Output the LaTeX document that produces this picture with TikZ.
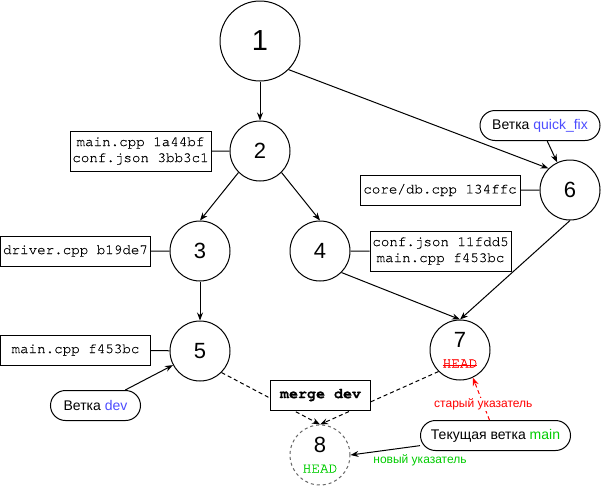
\documentclass[tikz,border=0pt]{standalone}
\usepackage{fontspec}
\setmainfont{Liberation Sans}
\newfontfamily\codefont[FakeBold=0.4,Ligatures=NoCommon]{TeX Gyre Cursor}
\usetikzlibrary{arrows.meta}
\definecolor{branchblue}{RGB}{76,76,255}
\definecolor{headgreen}{RGB}{0,204,0}
\definecolor{oldred}{RGB}{255,0,0}
\newcommand\struck[1]{\setbox0\hbox{#1}\rlap{\rule[0.32ex]{\wd0}{0.7pt}}\box0}
\newcommand\headtext[1]{\hbox{\codefont\fontsize{14.5}{14.5}\selectfont #1}}
\begin{document}
\begin{tikzpicture}[x=1pt,y=-1pt,line width=1pt,>={Stealth[length=8pt,width=6pt]},
  commit/.style={draw,circle,minimum size=60pt,inner sep=0pt,align=center,font=\fontsize{22}{22}\selectfont},
  files/.style={draw,fill=white,inner sep=2pt,align=center,font=\codefont\fontsize{14.2}{16}\selectfont},
  branch/.style={draw,rounded corners=15pt,minimum height=30pt,font=\fontsize{14}{16}\selectfont},
  ptr/.style={font=\fontsize{12}{14}\selectfont}]
\useasboundingbox (0,0) rectangle (601,498);

% commits
\node[commit,minimum size=80pt,font=\fontsize{29}{29}\selectfont] (c1) at (260,41) {1};
\node[commit] (c2) at (260,151) {2};
\node[commit] (c3) at (200,251) {3};
\node[commit] (c4) at (320,251) {4};
\node[commit] (c5) at (200,351) {5};
\node[commit] (c6) at (570,190) {6};
\node[commit] (c7) at (460,350) {7\\[-2pt]\headtext{\color{oldred}\struck{HEAD}}};
\node[commit,draw=gray!80!black,dash pattern=on 3pt off 3pt] (c8) at (320,455)
  {8\\[-2pt]\headtext{\color{headgreen}HEAD}};

% files of each commit
\node[files,minimum width=141pt,minimum height=40pt] (f2) at (140.5,151) {main.cpp 1a44bf\\conf.json 3bb3c1};
\node[files,minimum width=150pt,minimum height=30pt] (f3) at (75.5,251) {driver.cpp b19de7};
\node[files,minimum width=141pt,minimum height=40pt] (f4) at (440.5,251) {conf.json 11fdd5\\main.cpp f453bc};
\node[files,minimum width=150pt,minimum height=30pt] (f5) at (75.5,350) {main.cpp f453bc};
\node[files,minimum width=160pt,minimum height=30pt] (f6) at (440,190) {core/db.cpp 134ffc};
\draw (f2) -- (c2) (f3) -- (c3) (f4) -- (c4) (f5) -- (c5) (f6) -- (c6);

% branches
\node[branch,minimum width=120pt] (qf) at (540,125.5) {Ветка \textcolor{branchblue}{quick\_fix}};
\node[branch,minimum width=90pt] (dev) at (95.5,405.5) {Ветка \textcolor{branchblue}{dev}};
\node[branch,minimum width=150pt] (main) at (495.5,435.5) {Текущая ветка \textcolor{headgreen}{main}};

% history
\draw[->] (c1) -- (c2);
\draw[->] (c1.south east) -- (c6.north west);
\draw[->] (c2.south west) -- (c3.north);
\draw[->] (c2.south east) -- (c4.north);
\draw[->] (c3) -- (c5);
\draw[->] (c4.south east) -- (c7.north);
\draw[->] (c6.south) -- (c7.north);
\draw[->] (qf) -- (c6);
\draw[->] (dev) -- (c5);

% merge
\draw[->,dash pattern=on 4pt off 3pt] (c5.south east) -- (c8.north);
\draw[->,dash pattern=on 4pt off 3pt] (c7.south west) -- (c8.north);
\node[files,minimum width=100pt,minimum height=30pt,font=\codefont\bfseries\fontsize{15}{16}\selectfont] (merge) at (320.5,395) {merge dev};

% pointers
\draw[->] (main) -- (c8.east) node[ptr,at start,below=5pt,text=headgreen] {новый указатель};
\draw[->,oldred,dash pattern=on 4pt off 3pt] (main) -- (c7.-65)
  node[ptr,pos=0.37,fill=white,inner sep=1pt] {старый указатель};
\end{tikzpicture}
\end{document}
